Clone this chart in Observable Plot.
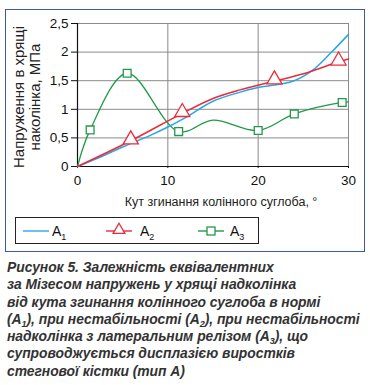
<!DOCTYPE html>
<html>
<head>
<meta charset="utf-8">
<script src="https://cdn.jsdelivr.net/npm/d3@7"></script>
<script src="https://cdn.jsdelivr.net/npm/@observablehq/plot@0.6"></script>
<style>
  html, body { margin: 0; padding: 0; background: #fff; }
  body { width: 370px; height: 385px; position: relative; overflow: hidden; font-family: "Liberation Sans", Arial, sans-serif; }
  #frame { position: absolute; left: 5px; top: 9px; width: 358px; height: 241px; border: 1.5px solid #3a5aa6; }
  #chart { position: absolute; left: 0; top: 0; }
  #legend { position: absolute; left: 15px; top: 217px; width: 242px; height: 25px; border: 1px solid #222; background: #fff; }
  #legend svg { position: absolute; left: 0; top: 0; }
  #caption { position: absolute; left: 7px; top: 259px; width: 363px; font-weight: bold; font-style: italic; font-size: 13.9px; line-height: 17.3px; color: #333; letter-spacing: -0.05px; white-space: nowrap; }
  #caption sub { font-size: 65%; vertical-align: -3px; line-height: 0; }
</style>
</head>
<body>
<div id="frame"></div>
<div id="chart"></div>
<div id="legend"></div>
<div id="caption"></div>
<script>
// ---- data ----
const a1X = [0, 2, 5, 8, 10, 12, 15, 18, 20, 22, 24, 26, 28, 30];
const a1Y = [0, 0.13, 0.34, 0.54, 0.69, 0.86, 1.14, 1.30, 1.38, 1.43, 1.50, 1.68, 1.98, 2.31];

const a2LineX = [0, 5.9, 11.6, 15, 18, 21.8, 25, 28.9, 30];
const a2LineY = [0, 0.45, 0.93, 1.19, 1.34, 1.49, 1.62, 1.83, 1.88];
const a2MarkX = [5.9, 11.6, 21.8, 28.9];
const a2MarkY = [0.47, 0.95, 1.52, 1.85];

const a3LineX = [0, 1.4, 5.5, 11.2, 15, 20.0, 24.0, 29.3, 30];
const a3LineY = [0, 0.64, 1.63, 0.61, 0.81, 0.63, 0.92, 1.12, 1.13];
const a3MarkX = [1.4, 5.5, 11.2, 20.0, 24.0, 29.3];
const a3MarkY = [0.64, 1.63, 0.61, 0.63, 0.92, 1.12];

const xTicks = [0, 10, 20, 30];
const yTicks = [0, 0.5, 1, 1.5, 2, 2.5];
const seriesNames = ["A1", "A2", "A3"];
const colors = { A1: "#2aa6e6", A2: "#ea2c3a", A3: "#22994a" };

const xTitle = "Кут згинання колінного суглоба, °";
const yTitle = "Напруження в хрящі\nнаколінка, МПа";
const captionLines = [
  "Рисунок 5. Залежність еквівалентних",
  "за Мізесом напружень у хрящі надколінка",
  "від кута згинання колінного суглоба в нормі",
  "(A<sub>1</sub>), при нестабільності (A<sub>2</sub>), при нестабільності",
  "надколінка з латеральним релізом (A<sub>3</sub>), що",
  "супроводжується дисплазією виростків",
  "стегнової кістки (тип А)"
];

// ---- build tables ----
const zip = (xs, ys, s) => xs.map((x, i) => ({ x, y: ys[i], s }));
const a1 = zip(a1X, a1Y, "A1");
const a2l = zip(a2LineX, a2LineY, "A2");
const a2m = zip(a2MarkX, a2MarkY, "A2");
const a3l = zip(a3LineX, a3LineY, "A3");
const a3m = zip(a3MarkX, a3MarkY, "A3");

const fmt = d => String(d).replace(".", ",");

const plot = Plot.plot({
  width: 370,
  height: 215,
  marginLeft: 77,
  marginRight: 22,
  marginTop: 23,
  marginBottom: 49,
  style: { fontFamily: "Liberation Sans, Arial, sans-serif", fontSize: "13px", color: "#111", background: "transparent" },
  x: { domain: [0, 30] },
  y: { domain: [0, 2.5] },
  marks: [
    Plot.gridY(yTicks.filter(d => d > 0), { stroke: "#8a8a8a", strokeOpacity: 1, strokeWidth: 1 }),
    Plot.gridX(xTicks.filter(d => d > 0), { stroke: "#8a8a8a", strokeOpacity: 1, strokeWidth: 1 }),
    Plot.axisY(yTicks, { tickFormat: fmt, tickSize: 6, tickPadding: 3, label: null, stroke: "#111", fontSize: 13.5 }),
    Plot.axisX(xTicks, { tickSize: 2, tickPadding: 7, label: null, stroke: "#111", fontSize: 13.5 }),
    Plot.ruleX([0], { stroke: "#111", strokeWidth: 1.2 }),
    Plot.ruleY([0], { stroke: "#111", strokeWidth: 1.2 }),
    Plot.line(a3l, { x: "x", y: "y", stroke: colors.A3, strokeWidth: 1.3, curve: "catmull-rom" }),
    Plot.line(a1, { x: "x", y: "y", stroke: colors.A1, strokeWidth: 1.5, curve: "catmull-rom" }),
    Plot.line(a2l, { x: "x", y: "y", stroke: colors.A2, strokeWidth: 1.5, curve: "catmull-rom" }),
    Plot.dot(a2m, { x: "x", y: "y", symbol: "triangle", r: 5.6, stroke: colors.A2, fill: "white", strokeWidth: 1.3 }),
    Plot.dot(a3m, { x: "x", y: "y", symbol: "square", r: 4.4, stroke: colors.A3, fill: "white", strokeWidth: 1.3 }),
    Plot.text([xTitle], { frameAnchor: "bottom", dy: 39, dx: 8, fontSize: 12.5, fill: "#222" }),
    Plot.text([yTitle], { frameAnchor: "left", textAnchor: "middle", rotate: -90, dx: -51, dy: 2, fontSize: 15, lineHeight: 1.08, fill: "#222" })
  ]
});
document.getElementById("chart").appendChild(plot);

// ---- legend ----
const lg = d3.select("#legend").append("svg").attr("width", 242).attr("height", 25);
const items = [
  { s: "A1", x0: 7, sym: null, tx: 36 },
  { s: "A2", x0: 90, sym: "triangle", tx: 124 },
  { s: "A3", x0: 182, sym: "square", tx: 214 }
];
items.forEach(it => {
  const c = colors[it.s];
  lg.append("line").attr("x1", it.x0).attr("x2", it.x0 + 26).attr("y1", 13).attr("y2", 13)
    .attr("stroke", c).attr("stroke-width", 1.4);
  if (it.sym === "triangle") {
    lg.append("path").attr("d", d3.symbol(d3.symbolTriangle, 60)())
      .attr("transform", `translate(${it.x0 + 13},12)`).attr("fill", "white").attr("stroke", c).attr("stroke-width", 1.3);
  } else if (it.sym === "square") {
    lg.append("rect").attr("x", it.x0 + 9).attr("y", 9).attr("width", 8).attr("height", 8)
      .attr("fill", "white").attr("stroke", c).attr("stroke-width", 1.3);
  }
  const t = lg.append("text").attr("x", it.tx).attr("y", 18)
    .attr("font-family", "Liberation Sans, Arial, sans-serif").attr("font-size", 14).attr("fill", "#111");
  t.append("tspan").text(it.s[0]);
  t.append("tspan").attr("font-size", 9).attr("dy", 4).text(it.s.slice(1));
});

// ---- caption ----
document.getElementById("caption").innerHTML = captionLines.join("<br>");
</script>
</body>
</html>
